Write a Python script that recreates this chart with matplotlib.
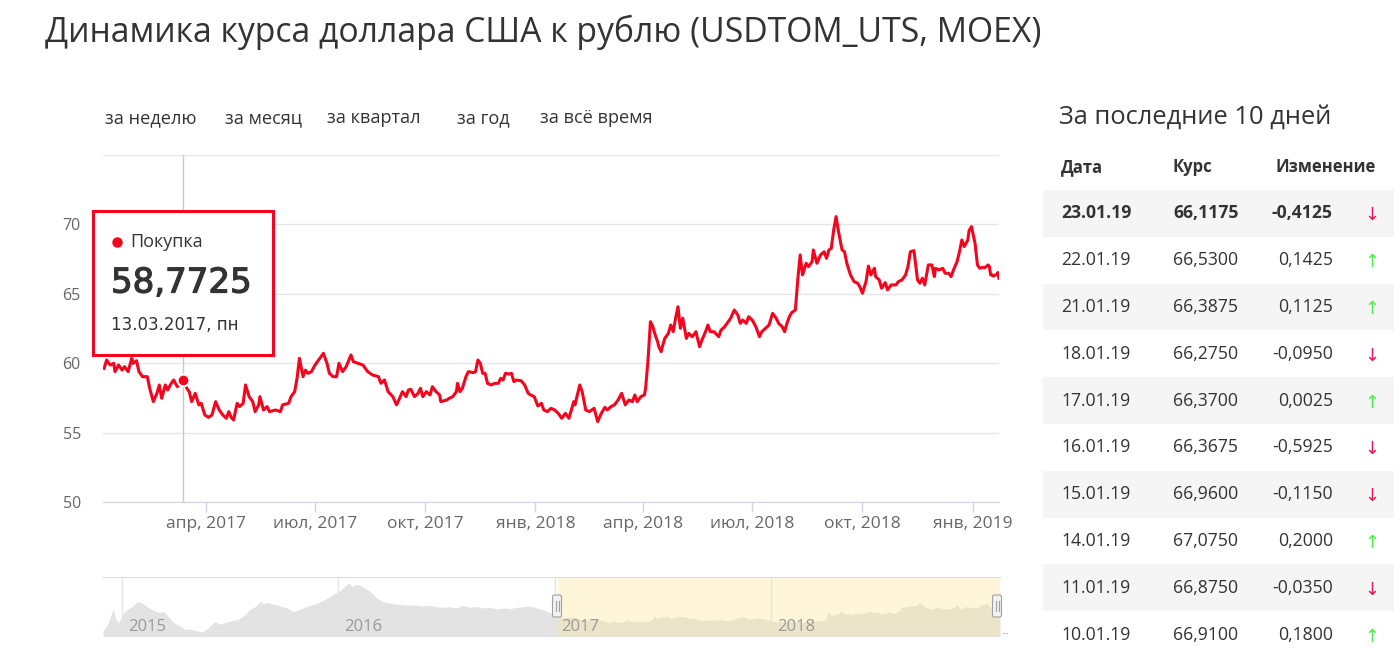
import numpy as np
import pandas as pd
import matplotlib
matplotlib.use('Agg')
import matplotlib.pyplot as plt
import matplotlib.patheffects as pe
from matplotlib.patches import Rectangle, FancyBboxPatch

plt.rcParams['font.family'] = ['Open Sans', 'DejaVu Sans']

RED = '#f5051d'
TEXT = '#333333'
GRID = '#e6e6e6'
AXIS = '#ccd6eb'
NARROW = ['Liberation Sans Narrow', 'Open Sans', 'DejaVu Sans']

title = 'Динамика курса доллара США к рублю (USDTOM_UTS, MOEX)'
periods = ['за неделю', 'за месяц', 'за квартал', 'за год', 'за всё время']

# main chart, days since 2017-01-01 and rate
chart_day = [5, 7, 10, 13, 14, 17, 20, 22, 25, 28, 29, 32, 34, 37, 41, 43, 46, 49, 51, 53,
             56, 58, 61, 63, 66, 71, 74, 76, 78, 81, 84, 86, 89, 92, 95, 98, 101, 104, 107, 109,
             111, 113, 116, 118, 121, 123, 126, 129, 131, 134, 135, 138, 141, 143, 148, 152, 154, 159, 161, 164,
             166, 168, 171, 173, 175, 178, 181, 184, 186, 188, 191, 193, 196, 199, 201, 204, 207, 211, 213, 217,
             221, 225, 229, 234, 236, 239, 242, 246, 249, 251, 254, 257, 259, 261, 264, 267, 269, 271, 274, 277,
             279, 282, 285, 286, 291, 293, 296, 299, 300, 302, 304, 307, 309, 313, 315, 317, 319, 321, 323, 325,
             328, 331, 334, 336, 338, 340, 343, 345, 347, 349, 353, 356, 359, 361, 364, 367, 370, 372, 375, 378,
             381, 384, 387, 390, 393, 397, 398, 402, 404, 407, 410, 414, 417, 420, 423, 425, 428, 431, 434, 437,
             440, 443, 446, 448, 450, 453, 456, 457, 459, 461, 463, 465, 467, 468, 470, 471, 473, 476, 478, 480,
             482, 484, 486, 488, 491, 493, 496, 499, 502, 504, 507, 509, 511, 514, 518, 520, 523, 525, 528, 531,
             534, 536, 538, 541, 543, 546, 549, 552, 554, 557, 560, 563, 566, 568, 571, 573, 575, 577, 579, 582,
             584, 586, 588, 591, 593, 596, 597, 600, 603, 606, 608, 610, 612, 614, 616, 618, 621, 623, 625, 628,
             631, 634, 636, 638, 641, 643, 645, 648, 649, 652, 654, 657, 659, 662, 666, 668, 671, 674, 676, 678,
             681, 684, 686, 688, 690, 693, 696, 698, 699, 702, 705, 707, 710, 712, 714, 717, 719, 721, 723, 726,
             727, 729, 732, 734, 736]
chart_rate = [59.63, 60.23, 59.87, 59.99, 59.39, 59.87, 59.50, 59.75, 59.39, 60.35, 59.99, 60.18, 59.39, 59.03, 59.03, 58.19, 57.23, 57.83, 58.43, 57.47,
              58.43, 58.07, 58.55, 58.79, 58.31, 58.7725, 58.19, 57.95, 57.23, 57.83, 57.00, 57.11, 56.27, 56.10, 56.27, 57.23, 56.63, 56.27, 56.03, 56.51,
              56.10, 55.91, 57.11, 56.87, 57.11, 58.43, 57.59, 57.23, 56.51, 57.00, 57.59, 56.63, 56.87, 56.51, 56.63, 56.51, 57.00, 57.11, 57.59, 57.95,
              58.91, 60.35, 59.03, 59.50, 59.27, 59.39, 59.87, 60.23, 60.47, 60.71, 59.99, 59.27, 59.03, 59.03, 59.99, 59.39, 59.75, 60.59, 60.11, 59.99,
              59.87, 59.39, 59.15, 59.03, 58.55, 58.79, 57.95, 57.59, 57.00, 57.35, 57.95, 57.59, 58.07, 58.12, 57.59, 57.83, 58.19, 57.59, 57.95, 57.71,
              58.31, 57.95, 57.71, 57.23, 57.35, 57.47, 57.59, 57.95, 58.55, 57.95, 58.19, 59.03, 59.39, 59.32, 59.39, 60.23, 59.99, 59.27, 59.27, 58.55,
              58.43, 58.55, 58.55, 58.91, 58.79, 59.27, 59.22, 59.27, 58.67, 58.79, 58.74, 58.43, 57.83, 57.71, 57.59, 56.92, 57.11, 56.63, 56.51, 56.75,
              56.63, 56.39, 56.03, 56.39, 56.03, 57.23, 57.00, 58.43, 57.95, 56.63, 56.51, 56.75, 55.79, 56.39, 56.82, 56.63, 56.87, 57.00, 57.35, 57.83,
              57.00, 57.35, 57.23, 57.71, 57.23, 57.59, 57.71, 58.20, 60.23, 62.99, 62.63, 62.03, 61.55, 61.19, 60.83, 61.19, 61.79, 62.15, 62.75, 62.27,
              63.24, 64.07, 62.51, 63.24, 61.79, 62.15, 61.91, 62.27, 61.19, 61.67, 62.27, 62.75, 62.27, 62.27, 61.91, 62.39, 62.63, 62.87, 63.24, 63.83,
              63.47, 62.87, 63.11, 62.87, 63.35, 63.11, 62.63, 61.91, 62.27, 62.51, 62.75, 63.59, 63.24, 62.87, 62.63, 62.27, 62.87, 63.35, 63.65, 63.83,
              66.00, 67.80, 66.36, 67.20, 66.96, 67.32, 68.16, 67.20, 67.80, 68.03, 67.56, 68.16, 68.28, 69.60, 70.56, 69.48, 68.16, 68.03, 67.20, 66.36,
              65.88, 65.76, 65.47, 65.04, 65.88, 67.00, 66.36, 66.84, 66.24, 66.00, 65.40, 65.81, 65.28, 65.64, 65.64, 65.88, 66.00, 66.36, 66.96, 68.03,
              68.11, 66.00, 65.76, 66.12, 65.64, 67.08, 67.08, 66.24, 66.84, 66.72, 66.84, 66.48, 66.48, 66.24, 66.72, 67.32, 68.03, 68.88, 68.40, 68.88,
              69.55, 69.84, 68.64, 67.08, 66.84]

# last 10 days table
table_dates = ['23.01.19', '22.01.19', '21.01.19', '18.01.19', '17.01.19',
               '16.01.19', '15.01.19', '14.01.19', '11.01.19', '10.01.19']
table_rates = [66.1175, 66.5300, 66.3875, 66.2750, 66.3700,
               66.3675, 66.9600, 67.0750, 66.8750, 66.9100]
table_changes = [-0.4125, 0.1425, 0.1125, -0.0950, 0.0025,
                 -0.5925, -0.1150, 0.2000, -0.0350, 0.1800]

# navigator history before 2017, days since 2015-01-01 and rate
hist_day = [-32, -24, -15, -11, -7, -2, 3, 10, 19, 27, 36, 44, 53, 61, 70, 75, 84, 92, 101, 107,
            115, 123, 135, 143, 152, 157, 166, 174, 186, 197, 208, 217, 225, 234, 239, 245, 254, 262, 271, 279,
            288, 296, 305, 316, 327, 339, 350, 361, 370, 378, 384, 389, 395, 404, 412, 421, 429, 438, 446, 455,
            463, 474, 486, 497, 508, 520, 531, 542, 554, 565, 576, 587, 599, 610, 621, 633, 644, 655, 667, 678,
            689, 701, 712, 723]
hist_rate = [50.2, 54.9, 65.5, 59.6, 56.1, 58.4, 63.1, 65.5, 67.8, 70.9, 69.0, 66.7, 64.8, 63.1, 63.8, 62.0, 57.3, 54.9, 53.0, 51.4,
             51.4, 50.7, 49.5, 51.4, 54.9, 56.8, 54.9, 56.1, 57.3, 58.4, 61.5, 65.5, 67.1, 70.9, 69.0, 70.2, 69.0, 68.5, 67.1, 66.2,
             63.8, 64.3, 66.2, 67.8, 69.0, 71.4, 73.7, 76.6, 78.9, 81.9, 83.6, 81.2, 82.7, 81.9, 79.6, 77.3, 73.7, 70.9, 70.2, 69.5,
             69.0, 68.5, 68.1, 68.3, 67.6, 68.1, 67.1, 66.7, 67.1, 66.2, 68.1, 66.7, 67.1, 66.2, 66.7, 65.5, 66.2, 65.7, 66.7, 67.1,
             67.6, 66.2, 64.8, 63.1]

tooltip_date = '2017-03-13'
tooltip_label = '13.03.2017, пн'
tooltip_rate = 58.7725

xtick_dates = ['2017-04-01', '2017-07-01', '2017-10-01', '2018-01-01',
               '2018-04-01', '2018-07-01', '2018-10-01', '2019-01-01']
xtick_labels = ['апр, 2017', 'июл, 2017', 'окт, 2017', 'янв, 2018',
                'апр, 2018', 'июл, 2018', 'окт, 2018', 'янв, 2019']
nav_years = ['2015', '2016', '2017', '2018']


def ru(v):
    return f'{v:.4f}'.replace('.', ',')


W, H = 1394, 650


def px_axes(fig, left, top, right, bottom):
    return fig.add_axes([left / W, 1 - bottom / H, (right - left) / W, (bottom - top) / H])


main = pd.Series(chart_rate, index=pd.Timestamp('2017-01-01') + pd.to_timedelta(chart_day, unit='D'))
tail = pd.Series(table_rates, index=pd.to_datetime(table_dates, format='%d.%m.%y'))
main = pd.concat([main, tail]).sort_index()
hist = pd.Series(hist_rate, index=pd.Timestamp('2015-01-01') + pd.to_timedelta(hist_day, unit='D'))
nav = pd.concat([hist, main]).sort_index()

fig = plt.figure(figsize=(W / 100, H / 100), dpi=100)

# main chart
ax = px_axes(fig, 103, 155, 999, 502)
ax.plot(main.index, main.values, color=RED, lw=2.2, zorder=3, solid_joinstyle='round')
ax.axvline(pd.Timestamp(tooltip_date), color='#c8c8c8', lw=1, zorder=1)
ax.plot([pd.Timestamp(tooltip_date)], [tooltip_rate], 'o', ms=8.5, mfc=RED, mec='white', mew=1.5, zorder=4)
ax.set_xlim(main.index[0] - pd.Timedelta(days=1), main.index[-1])
ax.set_ylim(50, 75)
ax.set_yticks([50, 55, 60, 65, 70, 75])
ax.set_yticklabels(['50', '55', '60', '65', '70', ''])
ax.grid(axis='y', color=GRID, lw=1)
ax.set_axisbelow(True)
ax.set_xticks(pd.to_datetime(xtick_dates))
ax.set_xticklabels(xtick_labels)
ax.tick_params(axis='y', length=0, pad=16, labelsize=11.5, labelcolor='#666666')
ax.tick_params(axis='x', length=7, width=1, color=AXIS, pad=3, labelsize=12.5, labelcolor='#666666')
for s in ['left', 'right', 'top']:
    ax.spines[s].set_visible(False)
ax.spines['bottom'].set_color(AXIS)

# navigator
nx = px_axes(fig, 103, 577, 1000, 636)
for y in nav_years:
    nx.axvline(pd.Timestamp(y + '-01-01'), color=GRID, lw=1, zorder=0)
    nx.text(pd.Timestamp(y + '-01-01') + pd.Timedelta(days=10), 47.3, y, family=NARROW,
            fontsize=12, color='#999999', va='bottom', ha='left', zorder=5)
nx.fill_between(nav.index, nav.values, 40, color='#e3e3e3', lw=0, zorder=1)
nx.axvspan(main.index[0], main.index[-1], color='#ffe696', alpha=0.35, lw=0, zorder=2)
nx.set_xlim(pd.Timestamp('2014-11-30'), main.index[-1])
nx.set_ylim(46.7, 87.8)
nx.set_xticks([])
nx.set_yticks([])
for s in ['left', 'right', 'bottom']:
    nx.spines[s].set_visible(False)
nx.spines['top'].set_color('#dddddd')

# overlay in pixel coordinates
ov = fig.add_axes([0, 0, 1, 1])
ov.set_xlim(0, W)
ov.set_ylim(H, 0)
ov.axis('off')
ov.set_zorder(10)

ov.text(45, 32, title, fontsize=24.3, color=TEXT, va='center', ha='left')
for x, p in zip([105, 225, 327, 457, 540], periods):
    ov.text(x, 118, p, family=NARROW, fontsize=13.1, color=TEXT, va='center', ha='left')

# navigator handles
for hx in [557, 997]:
    ov.add_patch(FancyBboxPatch((hx - 4.5, 595), 9, 22, boxstyle='round,pad=0,rounding_size=2',
                                fc='#f2f2f2', ec='#a0a0a0', lw=0.8))
    ov.plot([hx - 1.5, hx - 1.5], [601, 611], color='#a0a0a0', lw=0.8)
    ov.plot([hx + 1.5, hx + 1.5], [601, 611], color='#a0a0a0', lw=0.8)
ov.text(1001, 632, '...', fontsize=7, color='#999999', ha='left', va='center')

# tooltip
ov.add_patch(Rectangle((93, 211), 180, 144, fc='white', ec=RED, lw=2.2))
ov.plot([117], [242], 'o', ms=6.5, color=RED)
ov.text(130, 242, 'Покупка', fontsize=13, color=TEXT, va='center', ha='left')
ov.text(111, 283, ru(tooltip_rate), fontsize=24.5, color=TEXT, va='center', ha='left',
        family='DejaVu Sans',
        path_effects=[pe.withStroke(linewidth=0.9, foreground=TEXT)])
ov.text(111, 325, tooltip_label, fontsize=12, color=TEXT, va='center', ha='left',
        family='DejaVu Sans')

# table
ov.text(1059, 117, 'За последние 10 дней', fontsize=18.4, color=TEXT, va='center', ha='left')
ov.text(1061, 167, 'Дата', fontsize=12, color=TEXT, va='center', ha='left', fontweight='bold')
ov.text(1173, 167, 'Курс', fontsize=12, color=TEXT, va='center', ha='left', fontweight='bold')
ov.text(1376, 167, 'Изменение', fontsize=12, color=TEXT, va='center', ha='right', fontweight='bold')
row_h = 46.8
for i, (d, r, c) in enumerate(zip(table_dates, table_rates, table_changes)):
    top = 190 + i * row_h
    yc = top + row_h / 2
    if i % 2 == 0:
        ov.add_patch(Rectangle((1043, top), 351, row_h, fc='#f5f5f5', ec='none'))
    fw = 'bold' if i == 0 else 'normal'
    ov.text(1061, yc, d, fontsize=12.7, color=TEXT, va='center', ha='left', fontweight=fw)
    ov.text(1173, yc, ru(r), fontsize=12.7, color=TEXT, va='center', ha='left', fontweight=fw)
    ov.text(1333, yc, ru(c), fontsize=12.7, color=TEXT, va='center', ha='right', fontweight=fw)
    arrow, acol = ('↓', '#e8175d') if c < 0 else ('↑', '#4cf04c')
    ov.text(1372, yc + 2, arrow, fontsize=13, color=acol, va='center', ha='center', family='DejaVu Sans')

fig.savefig('out.png', dpi=100)
